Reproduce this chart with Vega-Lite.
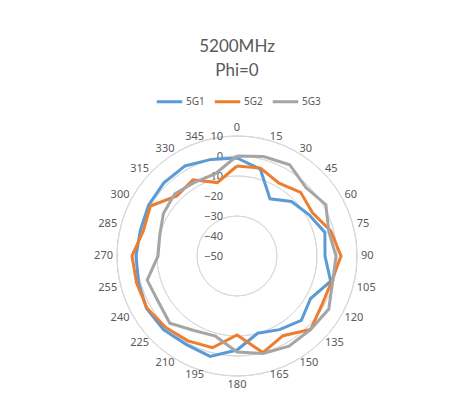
{
  "$schema": "https://vega.github.io/schema/vega-lite/v6.json",
  "autosize": {"type": "none"},
  "width": 240,
  "height": 240,
  "padding": {"left": 117, "top": 136, "right": 102, "bottom": 37},
  "background": "white",
  "title": {
    "text": ["5200MHz", "Phi=0"],
    "font": "Lato",
    "fontSize": 17,
    "fontWeight": "normal",
    "color": "#595959",
    "lineHeight": 24,
    "anchor": "middle",
    "offset": 7
  },
  "config": {"view": {"stroke": null}},
  "datasets": {
    "angles": [{"angle": 0}, {"angle": 15}, {"angle": 30}, {"angle": 45}, {"angle": 60}, {"angle": 75}, {"angle": 90}, {"angle": 105}, {"angle": 120}, {"angle": 135}, {"angle": 150}, {"angle": 165}, {"angle": 180}, {"angle": 195}, {"angle": 210}, {"angle": 225}, {"angle": 240}, {"angle": 255}, {"angle": 270}, {"angle": 285}, {"angle": 300}, {"angle": 315}, {"angle": 330}, {"angle": 345}]
  },
  "layer": [
    {
      "data": {"values": [{"ring": 10}, {"ring": 0}, {"ring": -10}, {"ring": -20}, {"ring": -30}, {"ring": -40}]},
      "mark": {"type": "arc", "filled": false, "stroke": "#D9D9D9", "strokeWidth": 1},
      "encoding": {
        "theta": {"datum": 0, "type": "quantitative", "scale": {"domain": [0, 360], "range": [0, 6.283185307179586]}},
        "theta2": {"datum": 360},
        "radius": {"field": "ring", "type": "quantitative", "scale": {"domain": [-50, 10], "range": [0, 120], "zero": false}}
      }
    },
    {
      "data": {"values": [{"ring": 10}, {"ring": 0}, {"ring": -10}, {"ring": -20}, {"ring": -30}, {"ring": -40}, {"ring": -50}]},
      "mark": {"type": "text", "align": "right", "baseline": "middle", "dx": -14, "dy": 1, "font": "Noto Sans", "fontSize": 11, "color": "#595959"},
      "encoding": {
        "theta": {"datum": 0, "type": "quantitative", "scale": {"domain": [0, 360], "range": [0, 6.283185307179586]}},
        "radius": {"field": "ring", "type": "quantitative", "scale": {"domain": [-50, 10], "range": [0, 120], "zero": false}},
        "text": {"field": "ring", "type": "quantitative"}
      }
    },
    {
      "data": {"name": "angles"},
      "transform": [{"filter": "datum.angle > 0 && datum.angle < 180"}],
      "mark": {"type": "text", "align": "left", "baseline": "middle", "dx": 1, "font": "Noto Sans", "fontSize": 11, "color": "#595959"},
      "encoding": {
        "theta": {"field": "angle", "type": "quantitative", "scale": {"domain": [0, 360], "range": [0, 6.283185307179586]}},
        "radius": {"datum": 11.5, "type": "quantitative", "scale": {"domain": [-50, 10], "range": [0, 120], "zero": false}},
        "text": {"field": "angle", "type": "quantitative"}
      }
    },
    {
      "data": {"name": "angles"},
      "transform": [{"filter": "datum.angle > 180"}],
      "mark": {"type": "text", "align": "right", "baseline": "middle", "dx": -1, "font": "Noto Sans", "fontSize": 11, "color": "#595959"},
      "encoding": {
        "theta": {"field": "angle", "type": "quantitative", "scale": {"domain": [0, 360], "range": [0, 6.283185307179586]}},
        "radius": {"datum": 11.5, "type": "quantitative", "scale": {"domain": [-50, 10], "range": [0, 120], "zero": false}},
        "text": {"field": "angle", "type": "quantitative"}
      }
    },
    {
      "data": {"name": "angles"},
      "transform": [{"filter": "datum.angle == 0"}],
      "mark": {"type": "text", "align": "center", "baseline": "bottom", "font": "Noto Sans", "fontSize": 11, "color": "#595959"},
      "encoding": {
        "theta": {"field": "angle", "type": "quantitative", "scale": {"domain": [0, 360], "range": [0, 6.283185307179586]}},
        "radius": {"datum": 11.5, "type": "quantitative", "scale": {"domain": [-50, 10], "range": [0, 120], "zero": false}},
        "text": {"field": "angle", "type": "quantitative"}
      }
    },
    {
      "data": {"name": "angles"},
      "transform": [{"filter": "datum.angle == 180"}],
      "mark": {"type": "text", "align": "center", "baseline": "top", "font": "Noto Sans", "fontSize": 11, "color": "#595959"},
      "encoding": {
        "theta": {"field": "angle", "type": "quantitative", "scale": {"domain": [0, 360], "range": [0, 6.283185307179586]}},
        "radius": {"datum": 11.5, "type": "quantitative", "scale": {"domain": [-50, 10], "range": [0, 120], "zero": false}},
        "text": {"field": "angle", "type": "quantitative"}
      }
    },
    {
      "data": {"values": [
        {"series": "5G1", "angle": 0, "value": -1},
        {"series": "5G1", "angle": 15, "value": -5},
        {"series": "5G1", "angle": 30, "value": -17},
        {"series": "5G1", "angle": 45, "value": -11.5},
        {"series": "5G1", "angle": 60, "value": -8.5},
        {"series": "5G1", "angle": 75, "value": -4.5},
        {"series": "5G1", "angle": 90, "value": -6},
        {"series": "5G1", "angle": 105, "value": -1.5},
        {"series": "5G1", "angle": 120, "value": -7.5},
        {"series": "5G1", "angle": 135, "value": -4.5},
        {"series": "5G1", "angle": 150, "value": -7.5},
        {"series": "5G1", "angle": 165, "value": -10},
        {"series": "5G1", "angle": 180, "value": -3},
        {"series": "5G1", "angle": 195, "value": 2},
        {"series": "5G1", "angle": 210, "value": 1},
        {"series": "5G1", "angle": 225, "value": 2},
        {"series": "5G1", "angle": 240, "value": 2.3},
        {"series": "5G1", "angle": 255, "value": 1},
        {"series": "5G1", "angle": 270, "value": 0.5},
        {"series": "5G1", "angle": 285, "value": 0},
        {"series": "5G1", "angle": 300, "value": 1},
        {"series": "5G1", "angle": 315, "value": 1.7},
        {"series": "5G1", "angle": 330, "value": 2},
        {"series": "5G1", "angle": 345, "value": 0},
        {"series": "5G1", "angle": 360, "value": -1},
        {"series": "5G2", "angle": 0, "value": -5},
        {"series": "5G2", "angle": 15, "value": -4.5},
        {"series": "5G2", "angle": 30, "value": -8},
        {"series": "5G2", "angle": 45, "value": -5},
        {"series": "5G2", "angle": 60, "value": -6.5},
        {"series": "5G2", "angle": 75, "value": -1.5},
        {"series": "5G2", "angle": 90, "value": 2},
        {"series": "5G2", "angle": 105, "value": -1},
        {"series": "5G2", "angle": 120, "value": -1},
        {"series": "5G2", "angle": 135, "value": 2},
        {"series": "5G2", "angle": 150, "value": -4},
        {"series": "5G2", "angle": 165, "value": 0},
        {"series": "5G2", "angle": 180, "value": -10.5},
        {"series": "5G2", "angle": 195, "value": -2.5},
        {"series": "5G2", "angle": 210, "value": -1},
        {"series": "5G2", "angle": 225, "value": 0.5},
        {"series": "5G2", "angle": 240, "value": 2},
        {"series": "5G2", "angle": 255, "value": 2},
        {"series": "5G2", "angle": 270, "value": 2.5},
        {"series": "5G2", "angle": 285, "value": -1.5},
        {"series": "5G2", "angle": 300, "value": 0},
        {"series": "5G2", "angle": 315, "value": -7.5},
        {"series": "5G2", "angle": 330, "value": -6},
        {"series": "5G2", "angle": 345, "value": -12},
        {"series": "5G2", "angle": 360, "value": -5},
        {"series": "5G3", "angle": 0, "value": 0},
        {"series": "5G3", "angle": 15, "value": 1.5},
        {"series": "5G3", "angle": 30, "value": 2.7},
        {"series": "5G3", "angle": 45, "value": -1.4},
        {"series": "5G3", "angle": 60, "value": 1.3},
        {"series": "5G3", "angle": 75, "value": -2.5},
        {"series": "5G3", "angle": 90, "value": -0.5},
        {"series": "5G3", "angle": 105, "value": -0.5},
        {"series": "5G3", "angle": 120, "value": 3},
        {"series": "5G3", "angle": 135, "value": 2},
        {"series": "5G3", "angle": 150, "value": 2},
        {"series": "5G3", "angle": 165, "value": 0.5},
        {"series": "5G3", "angle": 180, "value": -2},
        {"series": "5G3", "angle": 195, "value": -8.5},
        {"series": "5G3", "angle": 210, "value": -7},
        {"series": "5G3", "angle": 225, "value": -2.5},
        {"series": "5G3", "angle": 240, "value": -4.5},
        {"series": "5G3", "angle": 255, "value": -3.5},
        {"series": "5G3", "angle": 270, "value": -10.5},
        {"series": "5G3", "angle": 285, "value": -10},
        {"series": "5G3", "angle": 300, "value": -7.5},
        {"series": "5G3", "angle": 315, "value": -6},
        {"series": "5G3", "angle": 330, "value": -7.5},
        {"series": "5G3", "angle": 345, "value": -7.5},
        {"series": "5G3", "angle": 360, "value": 0}
      ]},
      "transform": [
        {"calculate": "(datum.value + 50) * sin(datum.angle * PI / 180)", "as": "px"},
        {"calculate": "(datum.value + 50) * cos(datum.angle * PI / 180)", "as": "py"}
      ],
      "mark": {"type": "line", "strokeWidth": 3, "strokeJoin": "miter", "strokeCap": "butt"},
      "encoding": {
        "x": {"field": "px", "type": "quantitative", "scale": {"domain": [-60, 60]}, "axis": null},
        "y": {"field": "py", "type": "quantitative", "scale": {"domain": [-60, 60]}, "axis": null},
        "order": {"field": "angle", "type": "quantitative"},
        "color": {
          "field": "series", "type": "nominal",
          "scale": {"domain": ["5G1", "5G2", "5G3"], "range": ["#5B9BD5", "#ED7D31", "#A5A5A5"]},
          "legend": {
            "title": null,
            "orient": "none",
            "direction": "horizontal",
            "legendX": 38,
            "legendY": -49,
            "symbolType": "stroke",
            "symbolSize": 650,
            "symbolStrokeWidth": 3,
            "labelFont": "Noto Sans",
            "labelFontSize": 10,
            "labelColor": "#595959",
            "labelOffset": 2,
            "columnPadding": 3
          }
        }
      }
    }
  ]
}
